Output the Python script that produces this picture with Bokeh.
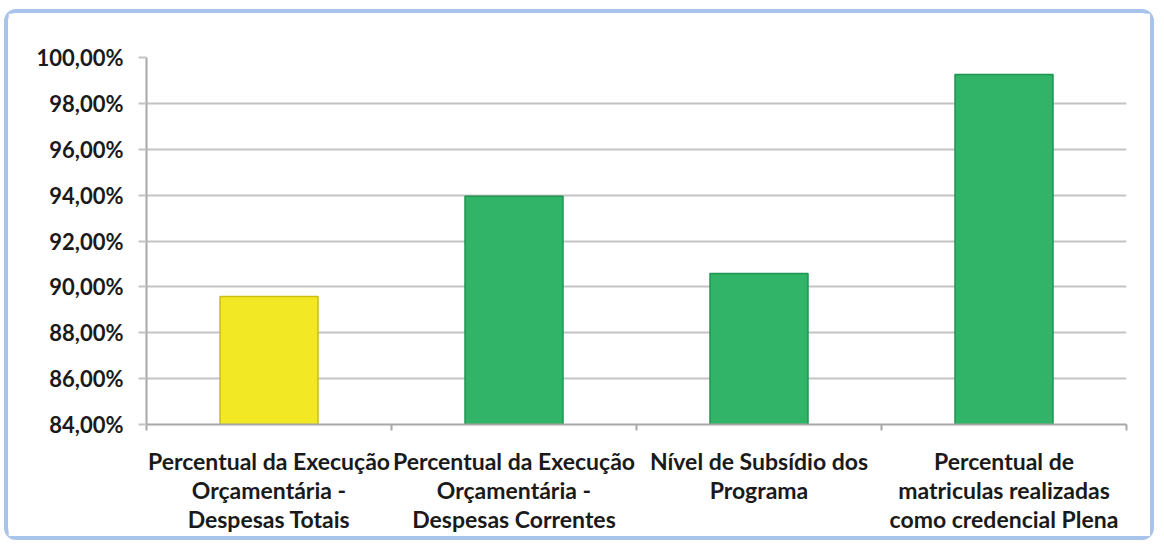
from bokeh.plotting import figure
from bokeh.models import Range1d, FixedTicker, CustomJSTickFormatter
from bokeh.embed import file_html
from bokeh.resources import INLINE

categories = [
    "Percentual da Execução\nOrçamentária -\nDespesas Totais",
    "Percentual da Execução\nOrçamentária -\nDespesas Correntes",
    "Nível de Subsídio dos\nPrograma",
    "Percentual de\nmatriculas realizadas\ncomo credencial Plena",
]
values = [89.58, 93.95, 90.58, 99.26]
fill_colors = ["#f2e824", "#32b468", "#32b468", "#32b468"]
line_colors = ["#c9bf10", "#1f944f", "#1f944f", "#1f944f"]
y_ticks = [84, 86, 88, 90, 92, 94, 96, 98, 100]

n = len(categories)
xs = [i + 0.5 for i in range(n)]
y_min, y_max = y_ticks[0], y_ticks[-1]

p = figure(
    width=1150, height=531,
    x_range=Range1d(0, n), y_range=Range1d(y_min, y_max),
    output_backend="svg", toolbar_location=None,
    min_border_left=138, min_border_top=44, min_border_right=32, min_border_bottom=120,
    styles={"margin-left": "4px", "margin-top": "9px",
            "border": "4px solid #a9c4ea", "border-radius": "12px"},
)
p.outline_line_color = None
p.background_fill_color = "white"
p.border_fill_color = "white"

p.vbar(x=xs, top=values, bottom=y_min, width=0.4,
       fill_color=fill_colors, line_color=line_colors, line_width=1.5)

# grid
p.xgrid.grid_line_color = None
p.ygrid.ticker = FixedTicker(ticks=y_ticks)
p.ygrid.grid_line_color = "#c4c4c4"
p.ygrid.grid_line_width = 2

font = "Lato"
# y axis
p.yaxis.ticker = FixedTicker(ticks=y_ticks)
p.yaxis.formatter = CustomJSTickFormatter(code="return tick.toFixed(2).replace('.', ',') + '%';")
p.yaxis.axis_line_color = "#a8a8a8"
p.yaxis.axis_line_width = 2
p.yaxis.major_tick_line_color = "#c4c4c4"
p.yaxis.major_tick_line_width = 2
p.yaxis.major_tick_out = 8
p.yaxis.major_tick_in = 0
p.yaxis.minor_tick_line_color = None
p.yaxis.major_label_standoff = 15
p.yaxis.major_label_text_font = font
p.yaxis.major_label_text_font_style = "bold"
p.yaxis.major_label_text_font_size = "22px"
p.yaxis.major_label_text_color = "#1a1a1a"

# x axis
p.xaxis.ticker = FixedTicker(ticks=xs, minor_ticks=list(range(n + 1)))
p.xaxis.major_label_overrides = {x: c for x, c in zip(xs, categories)}
p.xaxis.axis_line_color = "#a8a8a8"
p.xaxis.axis_line_width = 2
p.xaxis.major_tick_line_color = None
p.xaxis.minor_tick_line_color = "#a8a8a8"
p.xaxis.minor_tick_line_width = 2
p.xaxis.minor_tick_out = 6
p.xaxis.minor_tick_in = 0
p.xaxis.major_label_standoff = 16
p.xaxis.major_label_text_font = font
p.xaxis.major_label_text_font_style = "bold"
p.xaxis.major_label_text_font_size = "23px"
p.xaxis.major_label_text_line_height = 1.04
p.xaxis.major_label_text_color = "#1a1a1a"

open("out.html", "w").write(file_html(p, INLINE))
